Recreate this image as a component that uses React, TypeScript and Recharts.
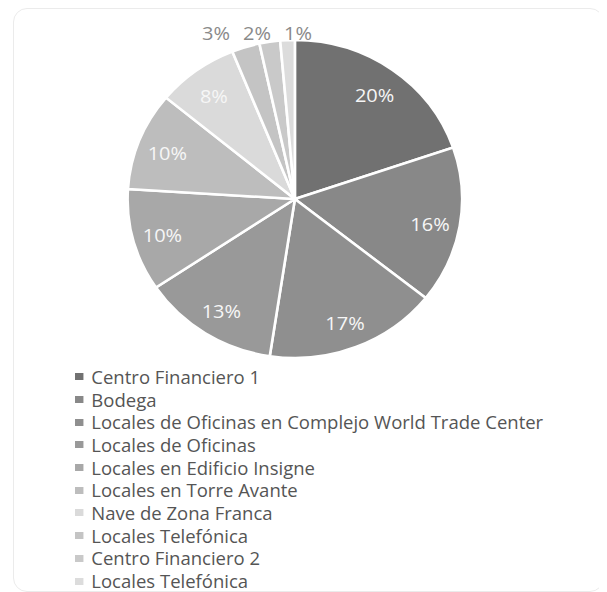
import { PieChart, Pie, Cell, Legend } from 'recharts';

const names = [
  'Centro Financiero 1',
  'Bodega',
  'Locales de Oficinas en Complejo World Trade Center',
  'Locales de Oficinas',
  'Locales en Edificio Insigne',
  'Locales en Torre Avante',
  'Nave de Zona Franca',
  'Locales Telefónica',
  'Centro Financiero 2',
  'Locales Telefónica',
];
const shares = [19.75, 15.95, 16.7, 13.2, 10.4, 10.0, 7.9, 2.7, 2.0, 1.4];
const colors = [
  '#717171',
  '#888888',
  '#8f8f8f',
  '#999999',
  '#a8a8a8',
  '#bdbdbd',
  '#dadada',
  '#c4c4c4',
  '#c9c9c9',
  '#dcdcdc',
];

const data = names.map((name, i) => ({ name, value: shares[i] }));

const FONT = '"Open Sans", sans-serif';
const RAD = Math.PI / 180;
const CX = 267;
const CY = 190;
const R = 159;

// small slices get their labels in a row above the pie (like Excel's best fit)
function renderLabel(props: any) {
  const { cx, cy, midAngle, outerRadius, percent, index } = props;
  const text = `${Math.round(percent * 100)}%`;
  if (percent < 0.05) {
    const fromEnd = data.length - 1 - index;
    const x = cx + 3 - fromEnd * 39;
    const y = cy - outerRadius - 7;
    return (
      <text x={x} y={y} fill="#8a8a8a" fontSize={19} fontFamily={FONT} textAnchor="middle" dominantBaseline="central">
        {text}
      </text>
    );
  }
  const r = outerRadius * 0.82;
  const x = cx + r * Math.cos(-midAngle * RAD);
  const y = cy + r * Math.sin(-midAngle * RAD) + 2;
  return (
    <text x={x} y={y} fill="#f6f6f6" fontSize={19} fontFamily={FONT} textAnchor="middle" dominantBaseline="central">
      {text}
    </text>
  );
}

function renderLegend() {
  return (
    <ul style={{ margin: 0, padding: 0, listStyle: 'none', fontFamily: FONT }}>
      {data.map((d, i) => (
        <li key={i} style={{ height: 22.7, display: 'flex', alignItems: 'center', whiteSpace: 'nowrap' }}>
          <span style={{ display: 'inline-block', width: 7.5, height: 7, background: colors[i], marginRight: 8 }} />
          <span style={{ fontSize: 17.6, color: '#555555' }}>{d.name}</span>
        </li>
      ))}
    </ul>
  );
}

export default function App() {
  return (
    <div style={{ position: 'relative', width: 599, height: 584 }}>
      <div
        style={{
          position: 'absolute',
          left: 5,
          top: 0,
          width: 591,
          height: 584,
          border: '1px solid #ebebeb',
          borderRadius: 14,
          boxSizing: 'border-box',
        }}
      />
      <div style={{ position: 'absolute', left: 6, top: 1, transform: 'scaleX(1.052)', transformOrigin: '0 0' }}>
        <PieChart width={560} height={582} margin={{ top: 0, right: 0, bottom: 0, left: 0 }}>
          <Pie
            data={data}
            dataKey="value"
            nameKey="name"
            cx={CX}
            cy={CY}
            outerRadius={R}
            startAngle={90}
            endAngle={-270}
            stroke="#ffffff"
            strokeWidth={2.5}
            label={renderLabel}
            labelLine={false}
            isAnimationActive={false}
          >
            {data.map((d, i) => (
              <Cell key={i} fill={colors[i]} />
            ))}
          </Pie>
          <Legend
            content={renderLegend}
            layout="horizontal"
            verticalAlign="bottom"
            align="left"
            wrapperStyle={{ left: 58, top: 356.5, bottom: 'auto', width: 480 }}
          />
        </PieChart>
      </div>
    </div>
  );
}
